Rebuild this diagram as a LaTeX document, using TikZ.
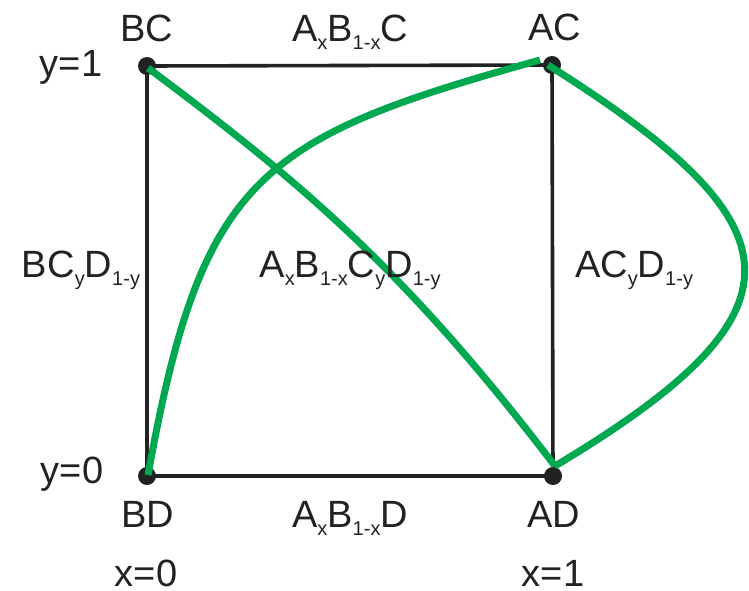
\documentclass[tikz,border=0pt]{standalone}
\usepackage{fontspec}
\setmainfont{Liberation Sans}
\definecolor{ink}{HTML}{222222}
\definecolor{grn}{RGB}{0,168,80}
\newcommand\lsub[1]{\raisebox{-8pt}{\fontsize{20}{20}\selectfont #1}}
\tikzset{
  dot/.style={circle,fill=ink,inner sep=0pt,minimum size=18pt},
  lbl/.style={anchor=base,text=ink,inner sep=0pt,font=\fontsize{38}{40}\selectfont},
  edge/.style={draw=ink,line width=3.6pt},
  gcurve/.style={draw=grn,line width=7pt}
}
\begin{document}
\begin{tikzpicture}[x=1pt,y=-1pt]
\useasboundingbox (0,0) rectangle (749,591);
% corners
\node[dot] (bc) at (147,66) {};
\node[dot] (ac) at (552,65) {};
\node[dot] (bd) at (147,476) {};
\node[dot] (ad) at (553,476) {};
\draw[edge] (bc.center) -- (ac.center) -- (ad.center) -- (bd.center) -- cycle;
% curve end points
\coordinate (bcg) at (148,68);
\coordinate (acg1) at (540,60);
\coordinate (acg2) at (548,65);
\coordinate (bdg) at (148,475);
\coordinate (adg) at (555,466);
% green curves
\draw[gcurve] (bcg) .. controls (298,180) and (403,267) .. (adg);
\draw[gcurve] (bdg) .. controls (202,175) and (260,138) .. (acg1);
\draw[gcurve] (acg2) .. controls (804,226) and (814,311) .. (adg);
% labels
\node[lbl] (tBC) at (147,42) {BC};
\node[lbl] (tTop) at (350,42) {A\lsub{x}B\lsub{1-x}C};
\node[lbl] (tAC) at (555,41) {AC};
\node[lbl] (ty1) at (71,77) {y=1};
\node[lbl] (tLeft) at (81,277) {BC\lsub{y}D\lsub{1-y}};
\node[lbl] (tMid) at (350,277) {A\lsub{x}B\lsub{1-x}C\lsub{y}D\lsub{1-y}};
\node[lbl] (tRight) at (634,277) {AC\lsub{y}D\lsub{1-y}};
\node[lbl] (ty0) at (72,483) {y=0};
\node[lbl] (tBD) at (148,527) {BD};
\node[lbl] (tBot) at (350,527) {A\lsub{x}B\lsub{1-x}D};
\node[lbl] (tAD) at (554,527) {AD};
\node[lbl,text depth=0pt] (tx0) at (146,586) {x=0};
\node[lbl,text depth=0pt] (tx1) at (553,586) {x=1};
\end{tikzpicture}
\end{document}
